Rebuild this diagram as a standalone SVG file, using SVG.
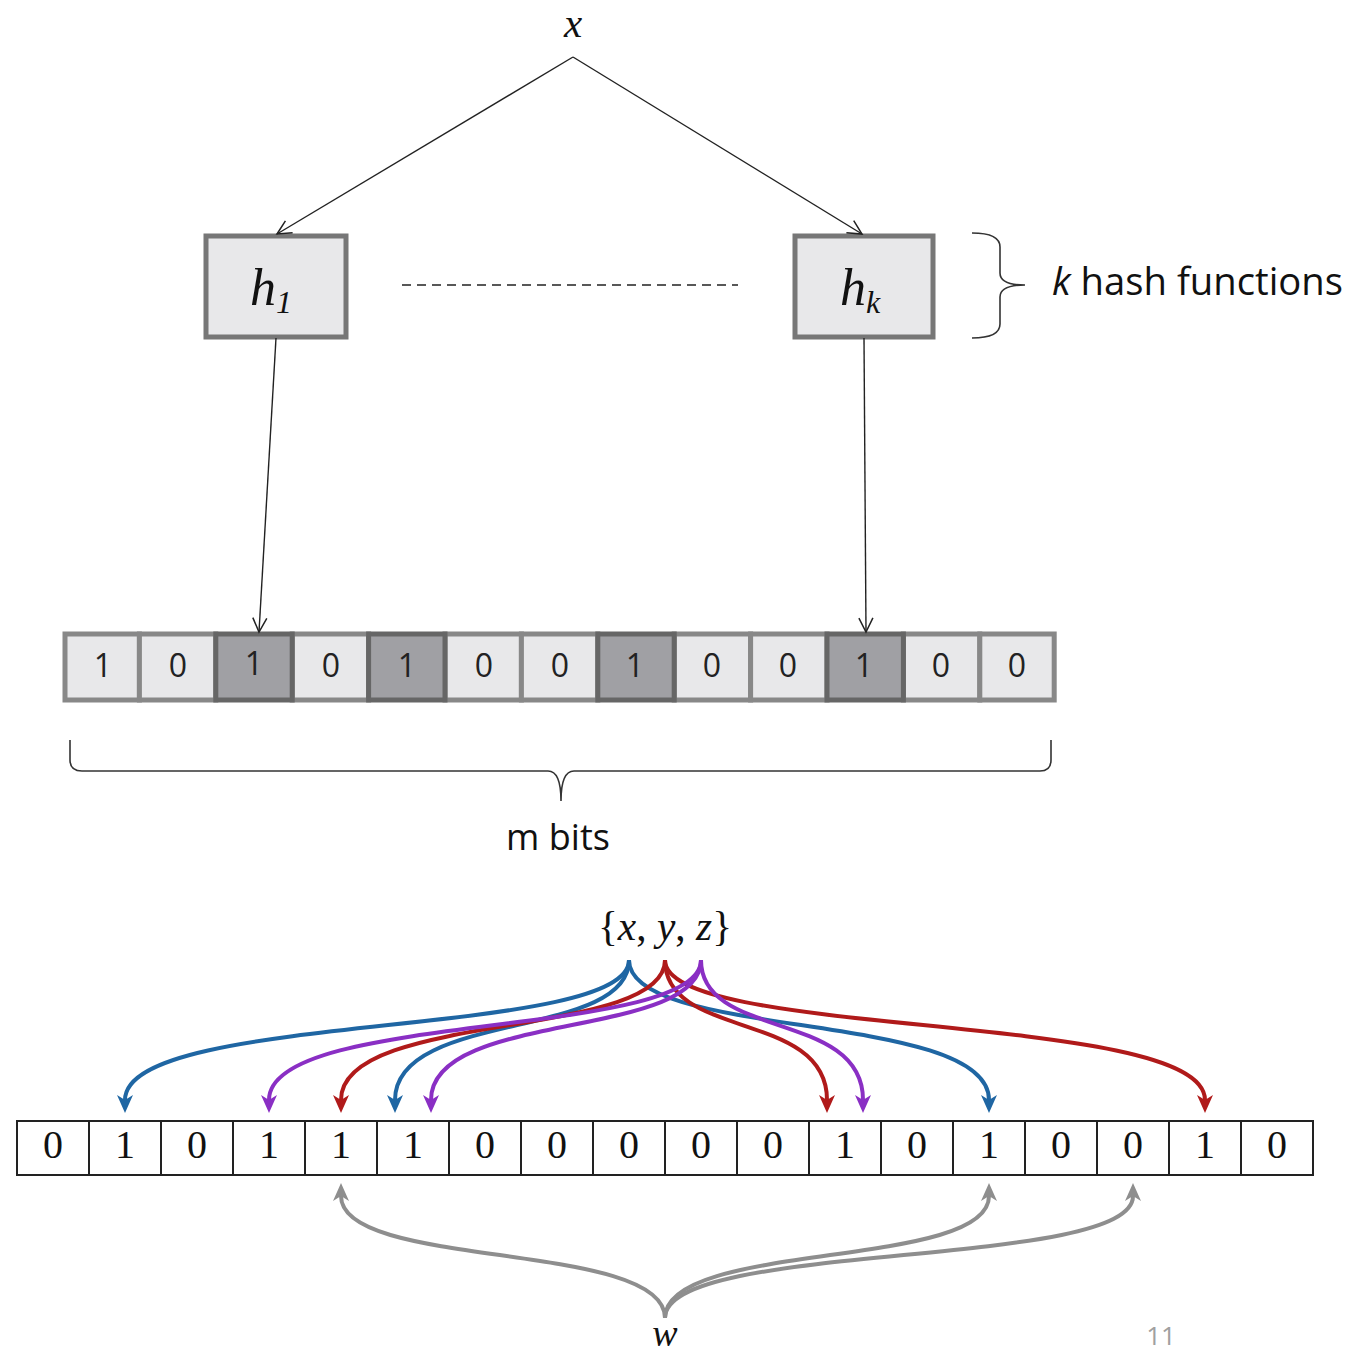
<svg xmlns="http://www.w3.org/2000/svg" width="1355" height="1355" viewBox="0 0 1355 1355">
<defs>
<style>
.serif{font-family:"Liberation Serif","DejaVu Serif",serif;}
.sans{font-family:"Open Sans","Noto Sans","Liberation Sans",sans-serif;}
.hbox{fill:#e8e8ea;stroke:#777;stroke-width:5;}
.lc{fill:#e8e8ea;stroke:#888;stroke-width:5;}
.dc{fill:#a0a0a4;stroke:#666;stroke-width:5;}
.bc{fill:#fff;stroke:#222;stroke-width:2;}
.d1{font-family:"Open Sans","Noto Sans",sans-serif;font-size:32px;fill:#222;text-anchor:middle;}
.d2{font-family:"Liberation Serif","DejaVu Serif",serif;font-size:40px;fill:#111;text-anchor:middle;}
.thin{stroke:#222;stroke-width:1.4;fill:none;}
.brace{stroke:#333;stroke-width:1.6;fill:none;}
.cb{stroke:#1f66a3;stroke-width:4;fill:none;}
.cr{stroke:#b01a1a;stroke-width:4;fill:none;}
.cp{stroke:#8a2fc4;stroke-width:4;fill:none;}
.cg{stroke:#8e8e8e;stroke-width:4;fill:none;}
</style>
<marker id="open" markerUnits="userSpaceOnUse" markerWidth="20" markerHeight="20" viewBox="0 0 20 20" refX="18" refY="10" orient="auto">
<path d="M4,3 L18,10 L4,17" fill="none" stroke="#222" stroke-width="1.5"/>
</marker>
<marker id="mb" markerUnits="userSpaceOnUse" markerWidth="20" markerHeight="20" viewBox="0 0 20 20" refX="5" refY="10" orient="auto">
<path d="M0,2 L18,10 L0,18 L5,10 z" fill="#1f66a3"/>
</marker>
<marker id="mr" markerUnits="userSpaceOnUse" markerWidth="20" markerHeight="20" viewBox="0 0 20 20" refX="5" refY="10" orient="auto">
<path d="M0,2 L18,10 L0,18 L5,10 z" fill="#b01a1a"/>
</marker>
<marker id="mp" markerUnits="userSpaceOnUse" markerWidth="20" markerHeight="20" viewBox="0 0 20 20" refX="5" refY="10" orient="auto">
<path d="M0,2 L18,10 L0,18 L5,10 z" fill="#8a2fc4"/>
</marker>
<marker id="mg" markerUnits="userSpaceOnUse" markerWidth="20" markerHeight="20" viewBox="0 0 20 20" refX="5" refY="10" orient="auto">
<path d="M0,2 L18,10 L0,18 L5,10 z" fill="#8e8e8e"/>
</marker>
</defs>
<rect width="1355" height="1355" fill="#fff"/>

<g id="node-x"><text x="573" y="37" class="serif" font-style="italic" font-size="41" text-anchor="middle" fill="#111">x</text></g>

<g id="node-h1">
<rect class="hbox" x="206" y="236" width="140" height="101"/>
<text x="250" y="305" class="serif" font-style="italic" font-size="52" fill="#111">h<tspan font-size="32" dy="8">1</tspan></text>
</g>
<g id="node-hk">
<rect class="hbox" x="795" y="236" width="138" height="101"/>
<text x="840" y="305" class="serif" font-style="italic" font-size="52" fill="#111">h<tspan font-size="32" dy="8">k</tspan></text>
</g>

<g id="label-k">
<path class="brace" d="M972,233 Q1000,233 1000,247 L1000,273 Q1000,285 1025,285 Q1000,285 1000,297 L1000,324 Q1000,338 972,338"/>
<text x="1052" y="295" class="sans" font-size="38" fill="#111" textLength="291" lengthAdjust="spacingAndGlyphs"><tspan font-style="italic">k</tspan> hash functions</text>
</g>

<g id="bits-top">
<rect class="lc" x="65" y="634" width="74.4" height="66"/>
<rect class="lc" x="139.4" y="634" width="76.4" height="66"/>
<rect class="lc" x="292.2" y="634" width="76.4" height="66"/>
<rect class="lc" x="445" y="634" width="76.4" height="66"/>
<rect class="lc" x="521.4" y="634" width="76.4" height="66"/>
<rect class="lc" x="674.2" y="634" width="76.4" height="66"/>
<rect class="lc" x="750.6" y="634" width="76.4" height="66"/>
<rect class="lc" x="903.4" y="634" width="76.4" height="66"/>
<rect class="lc" x="979.8" y="634" width="74.4" height="66"/>
<rect class="dc" x="215.8" y="634" width="76.4" height="66"/>
<rect class="dc" x="368.6" y="634" width="76.4" height="66"/>
<rect class="dc" x="597.8" y="634" width="76.4" height="66"/>
<rect class="dc" x="827" y="634" width="76.4" height="66"/>
<text class="d1" x="103" y="677">1</text>
<text class="d1" x="178" y="677">0</text>
<text class="d1" x="254" y="675">1</text>
<text class="d1" x="331" y="677">0</text>
<text class="d1" x="407" y="677">1</text>
<text class="d1" x="484" y="677">0</text>
<text class="d1" x="560" y="677">0</text>
<text class="d1" x="635" y="677">1</text>
<text class="d1" x="712" y="677">0</text>
<text class="d1" x="788" y="677">0</text>
<text class="d1" x="864" y="677">1</text>
<text class="d1" x="941" y="677">0</text>
<text class="d1" x="1017" y="677">0</text>
</g>

<g id="label-m">
<path class="brace" d="M70,740 L70,760 Q70,771 82,771 L548,771 Q561,771 561,801 Q561,771 574,771 L1040,771 Q1051,771 1051,760 L1051,740"/>
<text x="558" y="850" class="sans" font-size="36" text-anchor="middle" fill="#111">m bits</text>
</g>

<g id="node-xyz"><text x="665" y="940" class="serif" font-size="42" text-anchor="middle" fill="#111" textLength="134" lengthAdjust="spacingAndGlyphs">{<tspan font-style="italic">x</tspan>, <tspan font-style="italic">y</tspan>, <tspan font-style="italic">z</tspan>}</text></g>

<g id="bits-bottom">
<rect class="bc" x="17" y="1121" width="1296" height="54"/>
<path stroke="#222" stroke-width="2" d="M89,1121V1175M161,1121V1175M233,1121V1175M305,1121V1175M377,1121V1175M449,1121V1175M521,1121V1175M593,1121V1175M665,1121V1175M737,1121V1175M809,1121V1175M881,1121V1175M953,1121V1175M1025,1121V1175M1097,1121V1175M1169,1121V1175M1241,1121V1175"/>
<text class="d2" x="53" y="1158">0</text>
<text class="d2" x="125" y="1158">1</text>
<text class="d2" x="197" y="1158">0</text>
<text class="d2" x="269" y="1158">1</text>
<text class="d2" x="341" y="1158">1</text>
<text class="d2" x="413" y="1158">1</text>
<text class="d2" x="485" y="1158">0</text>
<text class="d2" x="557" y="1158">0</text>
<text class="d2" x="629" y="1158">0</text>
<text class="d2" x="701" y="1158">0</text>
<text class="d2" x="773" y="1158">0</text>
<text class="d2" x="845" y="1158">1</text>
<text class="d2" x="917" y="1158">0</text>
<text class="d2" x="989" y="1158">1</text>
<text class="d2" x="1061" y="1158">0</text>
<text class="d2" x="1133" y="1158">0</text>
<text class="d2" x="1205" y="1158">1</text>
<text class="d2" x="1277" y="1158">0</text>
</g>

<g id="node-w"><text x="665" y="1346" class="serif" font-style="italic" font-size="38" text-anchor="middle" fill="#111">w</text></g>
<g id="page-num"><text x="1161" y="1345" class="sans" font-size="26" text-anchor="middle" fill="#a0a0a0">11</text></g>

<g id="connectors">
<line class="thin" x1="573" y1="57" x2="277" y2="234" marker-end="url(#open)"/>
<line class="thin" x1="573" y1="57" x2="862" y2="234" marker-end="url(#open)"/>
<line class="thin" x1="402" y1="285" x2="738" y2="285" stroke-dasharray="9,6"/>
<line class="thin" x1="276" y1="338" x2="259" y2="632" marker-end="url(#open)"/>
<line class="thin" x1="864" y1="338" x2="866" y2="632" marker-end="url(#open)"/>

<path class="cb" d="M629,960 C629,1040 125,1010 125,1100" marker-end="url(#mb)"/>
<path class="cb" d="M629,960 C629,1040 395,1010 395,1100" marker-end="url(#mb)"/>
<path class="cb" d="M629,960 C629,1040 989,1010 989,1100" marker-end="url(#mb)"/>
<path class="cr" d="M665,960 C665,1040 341,1010 341,1100" marker-end="url(#mr)"/>
<path class="cr" d="M665,960 C665,1040 827,1010 827,1100" marker-end="url(#mr)"/>
<path class="cr" d="M665,960 C665,1040 1205,1010 1205,1100" marker-end="url(#mr)"/>
<path class="cp" d="M701,960 C701,1040 269,1010 269,1100" marker-end="url(#mp)"/>
<path class="cp" d="M701,960 C701,1040 431,1010 431,1100" marker-end="url(#mp)"/>
<path class="cp" d="M701,960 C701,1040 863,1010 863,1100" marker-end="url(#mp)"/>

<path class="cg" d="M665,1318 C665,1240 341,1270 341,1196" marker-end="url(#mg)"/>
<path class="cg" d="M665,1318 C665,1240 989,1270 989,1196" marker-end="url(#mg)"/>
<path class="cg" d="M665,1318 C665,1240 1133,1270 1133,1196" marker-end="url(#mg)"/>
</g>
</svg>
